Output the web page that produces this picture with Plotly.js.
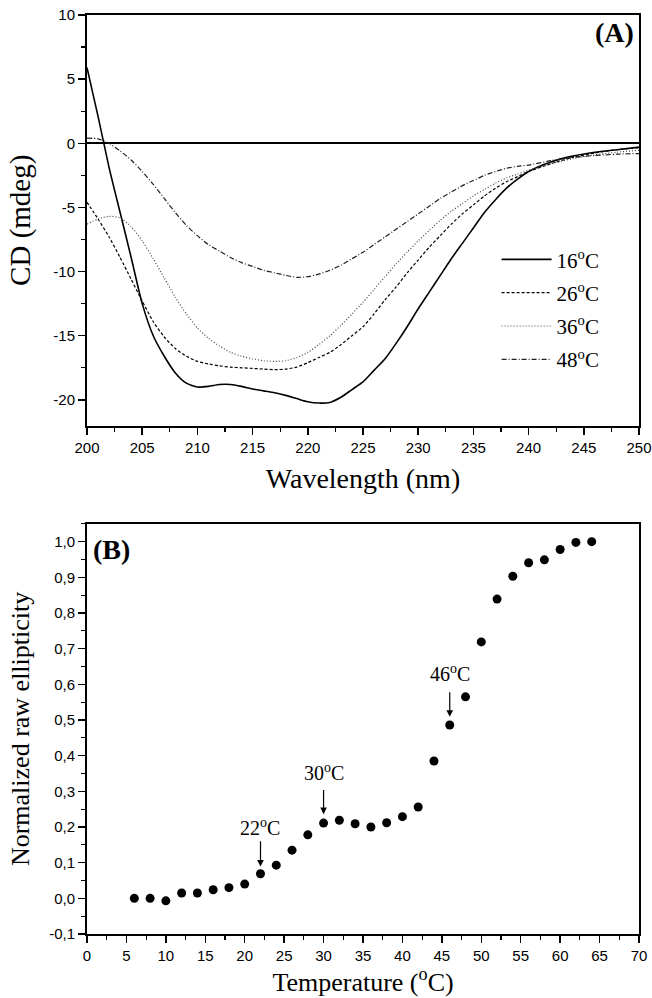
<!DOCTYPE html>
<html>
<head>
<meta charset="utf-8">
<script src="https://cdn.plot.ly/plotly-3.0.1.min.js"></script>
<style>html,body{margin:0;padding:0;background:#fff;}#chart{width:652px;height:998px;}</style>
</head>
<body>
<div id="chart"></div>
<script>
// ---- Panel A: CD spectra ----
var wavelength = [200,201,202,203,204,205,206,207,208,209,210,211,212,213,214,215,216,217,218,219,220,221,222,223,224,225,226,227,228,229,230,231,232,233,234,235,236,237,238,239,240,242,244,246,248,250];
var cd16 = [5.9,2.1,-1.9,-5.4,-8.9,-12.5,-15.0,-16.6,-17.9,-18.7,-19.0,-18.95,-18.8,-18.8,-18.95,-19.15,-19.3,-19.45,-19.65,-19.9,-20.15,-20.25,-20.2,-19.8,-19.2,-18.6,-17.7,-16.8,-15.6,-14.3,-12.9,-11.6,-10.3,-9.0,-7.8,-6.6,-5.4,-4.4,-3.5,-2.8,-2.2,-1.45,-1.0,-0.7,-0.5,-0.3];
var cd26 = [-4.6,-5.9,-7.3,-8.9,-10.6,-12.3,-13.9,-15.1,-16.0,-16.6,-17.0,-17.2,-17.35,-17.45,-17.5,-17.55,-17.6,-17.65,-17.6,-17.45,-17.1,-16.7,-16.3,-15.7,-15.0,-14.3,-13.3,-12.2,-11.2,-10.1,-9.1,-8.1,-7.2,-6.3,-5.5,-4.8,-4.1,-3.5,-3.0,-2.6,-2.2,-1.6,-1.1,-0.75,-0.5,-0.35];
var cd36 = [-6.3,-5.9,-5.7,-5.8,-6.5,-7.6,-9.0,-10.5,-12.0,-13.3,-14.4,-15.2,-15.8,-16.3,-16.6,-16.8,-16.95,-17.0,-16.95,-16.7,-16.3,-15.7,-15.0,-14.2,-13.3,-12.4,-11.4,-10.4,-9.4,-8.5,-7.6,-6.8,-6.0,-5.3,-4.7,-4.1,-3.6,-3.1,-2.7,-2.4,-2.1,-1.6,-1.2,-0.9,-0.7,-0.55];
var cd48 = [0.4,0.35,0.0,-0.6,-1.3,-2.2,-3.2,-4.3,-5.4,-6.4,-7.2,-7.9,-8.4,-8.9,-9.3,-9.6,-9.9,-10.1,-10.3,-10.45,-10.4,-10.2,-9.9,-9.5,-9.0,-8.5,-7.9,-7.3,-6.7,-6.1,-5.5,-4.9,-4.3,-3.8,-3.3,-2.9,-2.5,-2.2,-1.95,-1.8,-1.7,-1.35,-1.1,-0.95,-0.85,-0.8];
var seriesNames = ['16<sup>o</sup>C','26<sup>o</sup>C','36<sup>o</sup>C','48<sup>o</sup>C'];

// ---- Panel B: thermal transition ----
var temperature = [6,8,10,12,14,16,18,20,22,24,26,28,30,32,34,36,38,40,42,44,46,48,50,52,54,56,58,60,62,64];
var ellipticity = [0.000,0.000,-0.007,0.015,0.015,0.024,0.030,0.040,0.069,0.093,0.135,0.178,0.211,0.219,0.209,0.200,0.212,0.229,0.256,0.385,0.486,0.565,0.719,0.839,0.903,0.941,0.949,0.978,0.998,1.000];

// ---- Tick labels ----
var yTicksA = [10,5,0,-5,-10,-15,-20];
var yTickTextA = ['10','5','0','-5','-10','-15','-20'];
var xTicksA = [200,205,210,215,220,225,230,235,240,245,250];
var yTicksB = [-0.1,0,0.1,0.2,0.3,0.4,0.5,0.6,0.7,0.8,0.9,1.0];
var yTickTextB = ['-0,1','0,0','0,1','0,2','0,3','0,4','0,5','0,6','0,7','0,8','0,9','1,0'];
var xTicksB = [0,5,10,15,20,25,30,35,40,45,50,55,60,65,70];

// ---- Annotated transitions ----
var markT = [22,30,46];
var markLabel = ['22<sup>o</sup>C','30<sup>o</sup>C','46<sup>o</sup>C'];
var markHead = [0.089,0.236,0.509];
var markTail = [0.164,0.308,0.582];
var markText = [0.200,0.355,0.631];

var dashes = ['solid','3px,2px','1px,2px','5px,2px,1px,2px'];
var colors = ['#000','#000','#444','#222'];
var cdSeries = [cd16, cd26, cd36, cd48];

var traces = [];
for (var i = 0; i < cdSeries.length; i++) {
  traces.push({
    x: wavelength, y: cdSeries[i], type: 'scatter', mode: 'lines',
    name: seriesNames[i], legendgroup: 'g' + i,
    line: {color: colors[i], width: i === 0 ? 1.6 : 1.2, dash: dashes[i], shape: 'spline', smoothing: 0.6},
    xaxis: 'x', yaxis: 'y'
  });
}
traces.push({
  x: temperature, y: ellipticity, type: 'scatter', mode: 'markers',
  marker: {color: '#000', size: 9}, showlegend: false, xaxis: 'x2', yaxis: 'y2'
});

var SANS = 'Liberation Sans';
var SERIF = 'Liberation Serif';
function tf() { return {family: SANS, size: 15, color: '#000'}; }
function sf(s) { return {family: SERIF, size: s, color: '#000'}; }

var annotations = [
  {xref: 'paper', yref: 'paper', x: 0.995, y: 1.0, xanchor: 'right', yanchor: 'top',
   text: '<b>(A)</b>', showarrow: false, font: sf(28)},
  {xref: 'paper', yref: 'paper', x: 0.008, y: 0.437, xanchor: 'left', yanchor: 'top',
   text: '<b>(B)</b>', showarrow: false, font: sf(28)}
];
for (var k = 0; k < markT.length; k++) {
  annotations.push({xref: 'x2', yref: 'y2', axref: 'x2', ayref: 'y2',
    x: markT[k], y: markHead[k], ax: markT[k], ay: markTail[k], text: '',
    showarrow: true, arrowhead: 2, arrowsize: 1.1, arrowwidth: 1.2, arrowcolor: '#000', standoff: 0, startstandoff: 0});
  annotations.push({xref: 'x2', yref: 'y2', x: markT[k], y: markText[k], text: markLabel[k],
    showarrow: false, font: sf(20)});
}

function axis(extra) {
  var a = {
    showline: true, linecolor: '#000', linewidth: 2, mirror: true,
    ticks: 'outside', ticklen: 7, tickwidth: 1.5, tickcolor: '#000',
    showgrid: false, zeroline: false, tickfont: tf()
  };
  for (var key in extra) a[key] = extra[key];
  return a;
}

var layout = {
  width: 652, height: 998,
  font: {family: SERIF, size: 14, color: '#000'},
  margin: {l: 87, r: 13, t: 15, b: 64},
  paper_bgcolor: '#fff', plot_bgcolor: '#fff',
  separators: ',.',
  showlegend: true,
  legend: {x: 0.742, y: 0.756, xanchor: 'left', yanchor: 'top', bgcolor: 'rgba(0,0,0,0)',
           font: sf(21), tracegroupgap: 3, itemwidth: 50},
  xaxis: axis({
    domain: [0,1], anchor: 'y', range: [200,250], tickvals: xTicksA,
    minor: {dtick: 2.5, ticks: 'outside', ticklen: 4, tickwidth: 1.2, tickcolor: '#000'},
    title: {text: 'Wavelength (nm)', font: sf(28), standoff: 14}
  }),
  yaxis: axis({
    domain: [0.5533,1], anchor: 'x', range: [-22,10], tickvals: yTicksA, ticktext: yTickTextA,
    zeroline: true, zerolinecolor: '#000', zerolinewidth: 1.6,
    minor: {dtick: 2.5, ticks: 'outside', ticklen: 4, tickwidth: 1.2, tickcolor: '#000'},
    title: {text: 'CD (mdeg)', font: sf(29), standoff: 14}
  }),
  xaxis2: axis({
    domain: [0,1], anchor: 'y2', range: [0,70], tickvals: xTicksB,
    minor: {dtick: 2.5, ticks: 'outside', ticklen: 4, tickwidth: 1.2, tickcolor: '#000'},
    title: {text: 'Temperature (<sup>o</sup>C)', font: sf(26), standoff: 6}
  }),
  yaxis2: axis({
    domain: [0,0.4463], anchor: 'x2', range: [-0.1,1.05], tickvals: yTicksB, ticktext: yTickTextB,
    minor: {dtick: 0.05, ticks: 'outside', ticklen: 4, tickwidth: 1.2, tickcolor: '#000'},
    title: {text: 'Normalized raw ellipticity', font: sf(26), standoff: 12}
  }),
  annotations: annotations
};

Plotly.newPlot('chart', traces, layout, {displayModeBar: false, staticPlot: true});
</script>
</body>
</html>
